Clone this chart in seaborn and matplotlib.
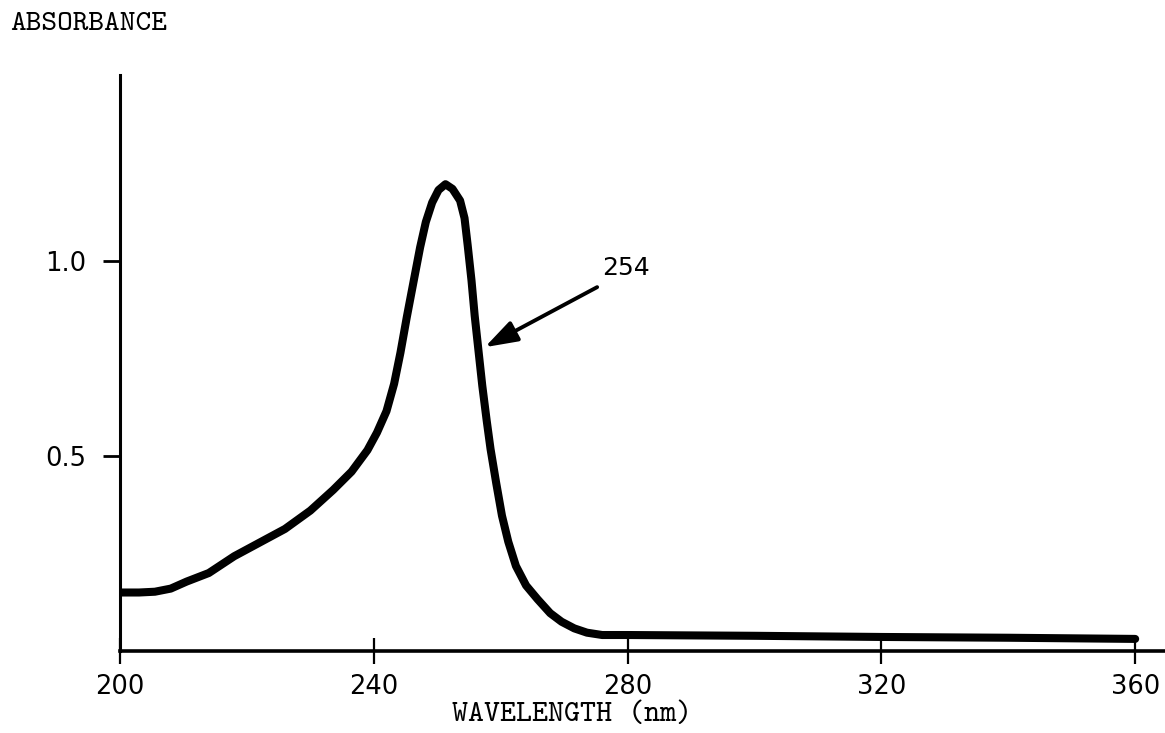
import matplotlib
matplotlib.use("Agg")
import matplotlib.pyplot as plt
import seaborn as sns
import pandas as pd

# UV absorption spectrum
wavelength = [200.3, 203.0, 205.5, 208.0, 210.5, 214.0, 218.0, 222.0, 226.0, 230.0,
              233.6, 236.5, 239.0, 240.5, 242.0, 243.2, 244.2, 245.2, 246.3, 247.3,
              248.2, 249.2, 250.2, 251.3, 252.4, 253.6, 254.3, 254.8, 255.4, 255.9,
              256.5, 257.1, 257.8, 258.4, 259.3, 260.2, 261.2, 262.4, 264.0, 265.8,
              267.8, 269.6, 271.6, 273.6, 276.0, 280.0, 300.0, 320.0, 340.0, 360.0]
absorbance = [0.150, 0.150, 0.152, 0.160, 0.178, 0.200, 0.243, 0.278, 0.313, 0.360,
              0.413, 0.460, 0.515, 0.560, 0.615, 0.685, 0.765, 0.856, 0.950, 1.035,
              1.100, 1.150, 1.182, 1.197, 1.185, 1.155, 1.110, 1.040, 0.950, 0.860,
              0.770, 0.680, 0.590, 0.518, 0.430, 0.347, 0.280, 0.218, 0.168, 0.133,
              0.097, 0.075, 0.058, 0.047, 0.041, 0.041, 0.039, 0.036, 0.034, 0.031]

x_ticks = [200, 240, 280, 320, 360]
x_tick_labels = ["200", "240", "280", "320", "360"]
y_ticks = [0.5, 1.0]
y_tick_labels = ["0.5", "1.0"]

peak_label = "254"
peak_text_pos = (276.0, 0.982)
arrow_tail = (275.2, 0.933)
arrow_tip = (257.5, 0.779)

sns.set_style("white")
plt.rcParams["font.family"] = ["DejaVu Sans"]
typewriter = ["cmtt10", "DejaVu Sans Mono"]

df = pd.DataFrame({"wavelength": wavelength, "absorbance": absorbance})

fig = plt.figure(figsize=(11.65, 7.33), dpi=100)
ax = fig.add_axes([120 / 1165, 82 / 733, 1045 / 1165, 576 / 733])

sns.lineplot(data=df, x="wavelength", y="absorbance", ax=ax, color="black",
             linewidth=5.8, sort=False, solid_joinstyle="round",
             solid_capstyle="round")

ax.set_xlim(200, 364.7)
ax.set_ylim(0, 1.477)

for side in ("top", "right"):
    ax.spines[side].set_visible(False)
ax.spines["left"].set_linewidth(2.2)
ax.spines["bottom"].set_linewidth(2.6)
ax.spines["left"].set_color("black")
ax.spines["bottom"].set_color("black")

ax.set_xticks(x_ticks)
ax.set_xticklabels(x_tick_labels, fontsize=18.5)
ax.set_yticks(y_ticks)
ax.set_yticklabels(y_tick_labels, fontsize=18.5)
ax.tick_params(axis="x", direction="inout", length=19, width=1.6, pad=7,
               colors="black", bottom=True)
ax.tick_params(axis="y", direction="out", length=12, width=2.0, pad=12,
               colors="black", left=True)

ax.set_xlabel("WAVELENGTH (nm)", family=typewriter, fontsize=22,
              color="black", va="top")
ax.xaxis.set_label_coords(0.4325, -0.088)
ax.set_ylabel("")

fig.text(10 / 1165, 1 - 24 / 733, "ABSORBANCE", family=typewriter,
         fontsize=21.5, ha="left", va="center", color="black")

ax.text(peak_text_pos[0], peak_text_pos[1], peak_label, fontsize=18,
        ha="left", va="center", color="black")
ax.annotate("", xy=arrow_tip, xytext=arrow_tail,
            arrowprops=dict(arrowstyle="-|>,head_length=0.9,head_width=0.3",
                            lw=2.8, color="black",
                            mutation_scale=22, shrinkA=0, shrinkB=0))

fig.savefig("out.png", dpi=100, facecolor="white")
